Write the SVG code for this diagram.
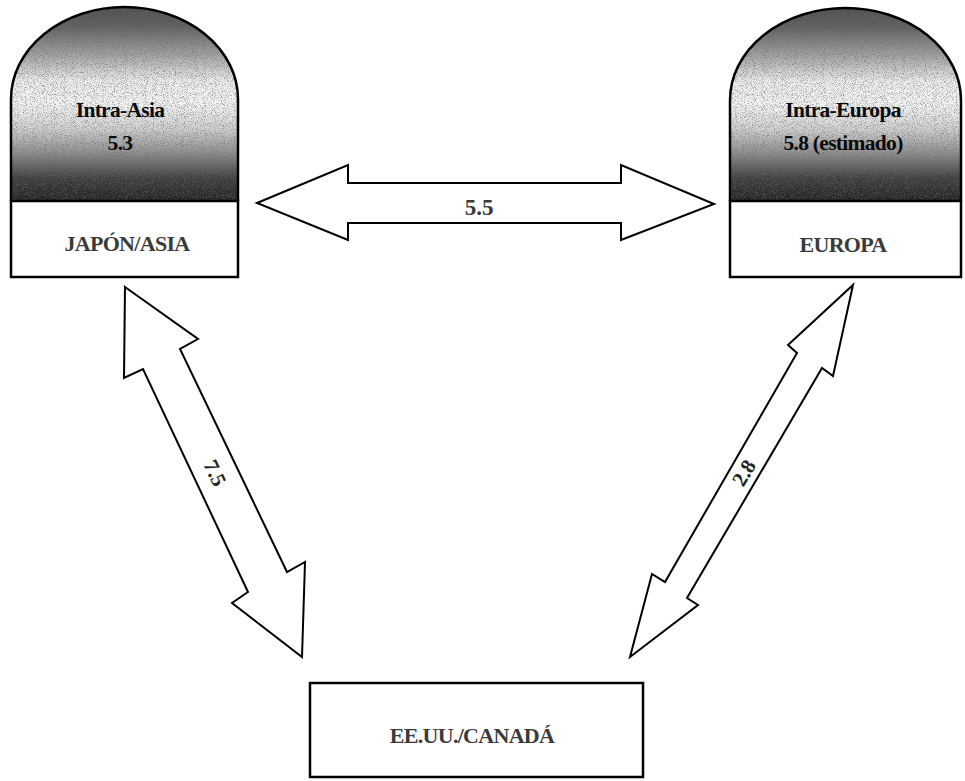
<svg xmlns="http://www.w3.org/2000/svg" width="965" height="781" viewBox="0 0 965 781">
  <style>
    .box { fill: #ffffff; stroke: #000000; stroke-width: 2.5; }
    .dome { stroke: #000000; stroke-width: 2.5; fill: none; }
    .arrow { fill: #ffffff; stroke: #000000; stroke-width: 2; stroke-linejoin: miter; }
    .t { font-family: "Liberation Serif", "DejaVu Serif", serif; font-weight: bold; text-anchor: middle; }
    .head { font-size: 21.5px; fill: #0a0a0a; letter-spacing: -0.7px; }
    .name { font-size: 22px; fill: #3a3a3a; letter-spacing: -0.7px; }
    .num { font-size: 23px; fill: #3a3a3a; }
    .dnum { font-size: 21px; fill: #222; }
  </style>
  <defs>
    <linearGradient id="shade" x1="0" y1="0" x2="0" y2="1">
      <stop offset="0" stop-color="#4e4e4e"/>
      <stop offset="0.1" stop-color="#606060"/>
      <stop offset="0.25" stop-color="#a4a4a4"/>
      <stop offset="0.38" stop-color="#ececec"/>
      <stop offset="0.5" stop-color="#f4f4f4"/>
      <stop offset="0.62" stop-color="#d4d4d4"/>
      <stop offset="0.75" stop-color="#909090"/>
      <stop offset="0.88" stop-color="#404040"/>
      <stop offset="1" stop-color="#222222"/>
    </linearGradient>
    <filter id="grain" x="0" y="0" width="100%" height="100%">
      <feTurbulence type="fractalNoise" baseFrequency="1.1" numOctaves="2" seed="5" result="n"/>
      <feColorMatrix in="n" type="matrix" values="0 0 0 0 0.15  0 0 0 0 0.15  0 0 0 0 0.15  0 0 0 2.2 -1.05"/>
    </filter>
    <clipPath id="clipL"><path d="M11,201 L11,99 A113.5,92 0 0 1 238,99 L238,201 Z"/></clipPath>
    <clipPath id="clipR"><path d="M730,201 L730,100 A115.5,92 0 0 1 961,100 L961,201 Z"/></clipPath>
  </defs>

  <g id="node-japon-asia">
    <g clip-path="url(#clipL)">
      <rect x="11" y="7" width="227" height="194" fill="url(#shade)"/>
      <rect x="11" y="7" width="227" height="194" filter="url(#grain)"/>
    </g>
    <path class="dome" d="M11,201 L11,99 A113.5,92 0 0 1 238,99 L238,201"/>
    <rect class="box" x="11" y="201" width="227" height="76"/>
    <text class="t head" x="120" y="117">Intra-Asia</text>
    <text class="t head" x="120" y="150">5.3</text>
    <text class="t name" x="127" y="251">JAPÓN/ASIA</text>
  </g>

  <g id="node-europa">
    <g clip-path="url(#clipR)">
      <rect x="730" y="8" width="231" height="193" fill="url(#shade)"/>
      <rect x="730" y="8" width="231" height="193" filter="url(#grain)"/>
    </g>
    <path class="dome" d="M730,201 L730,100 A115.5,92 0 0 1 961,100 L961,201"/>
    <rect class="box" x="730" y="201" width="231" height="76"/>
    <text class="t head" x="843" y="117">Intra-Europa</text>
    <text class="t head" x="843" y="150">5.8 (estimado)</text>
    <text class="t name" x="843" y="252">EUROPA</text>
  </g>

  <g id="node-eeuu-canada">
    <rect class="box" x="310" y="683" width="333" height="94"/>
    <text class="t name" x="472" y="743">EE.UU./CANADÁ</text>
  </g>

  <g id="connectors">
    <g id="arrow-asia-europa">
      <polygon class="arrow" points="257,203 348,165 348,183 621,183 621,165 714,204 621,240 621,223 348,223 348,240"/>
      <text class="t num" x="479" y="215">5.5</text>
    </g>
    <g id="arrow-asia-eeuu">
      <polygon class="arrow" points="125,287 198,339 180,349 287,572 305,562 302,657 232,603 248,592 143,369 124,378"/>
      <text class="t dnum" transform="translate(215,473) rotate(64)" x="0" y="7">7.5</text>
    </g>
    <g id="arrow-europa-eeuu">
      <polygon class="arrow" points="853,285 833,376 822,368 687,598 698,605 630,657 652,574 665,582 797,353 788,345"/>
      <text class="t dnum" transform="translate(744,473) rotate(-59)" x="0" y="7">2.8</text>
    </g>
  </g>
</svg>
